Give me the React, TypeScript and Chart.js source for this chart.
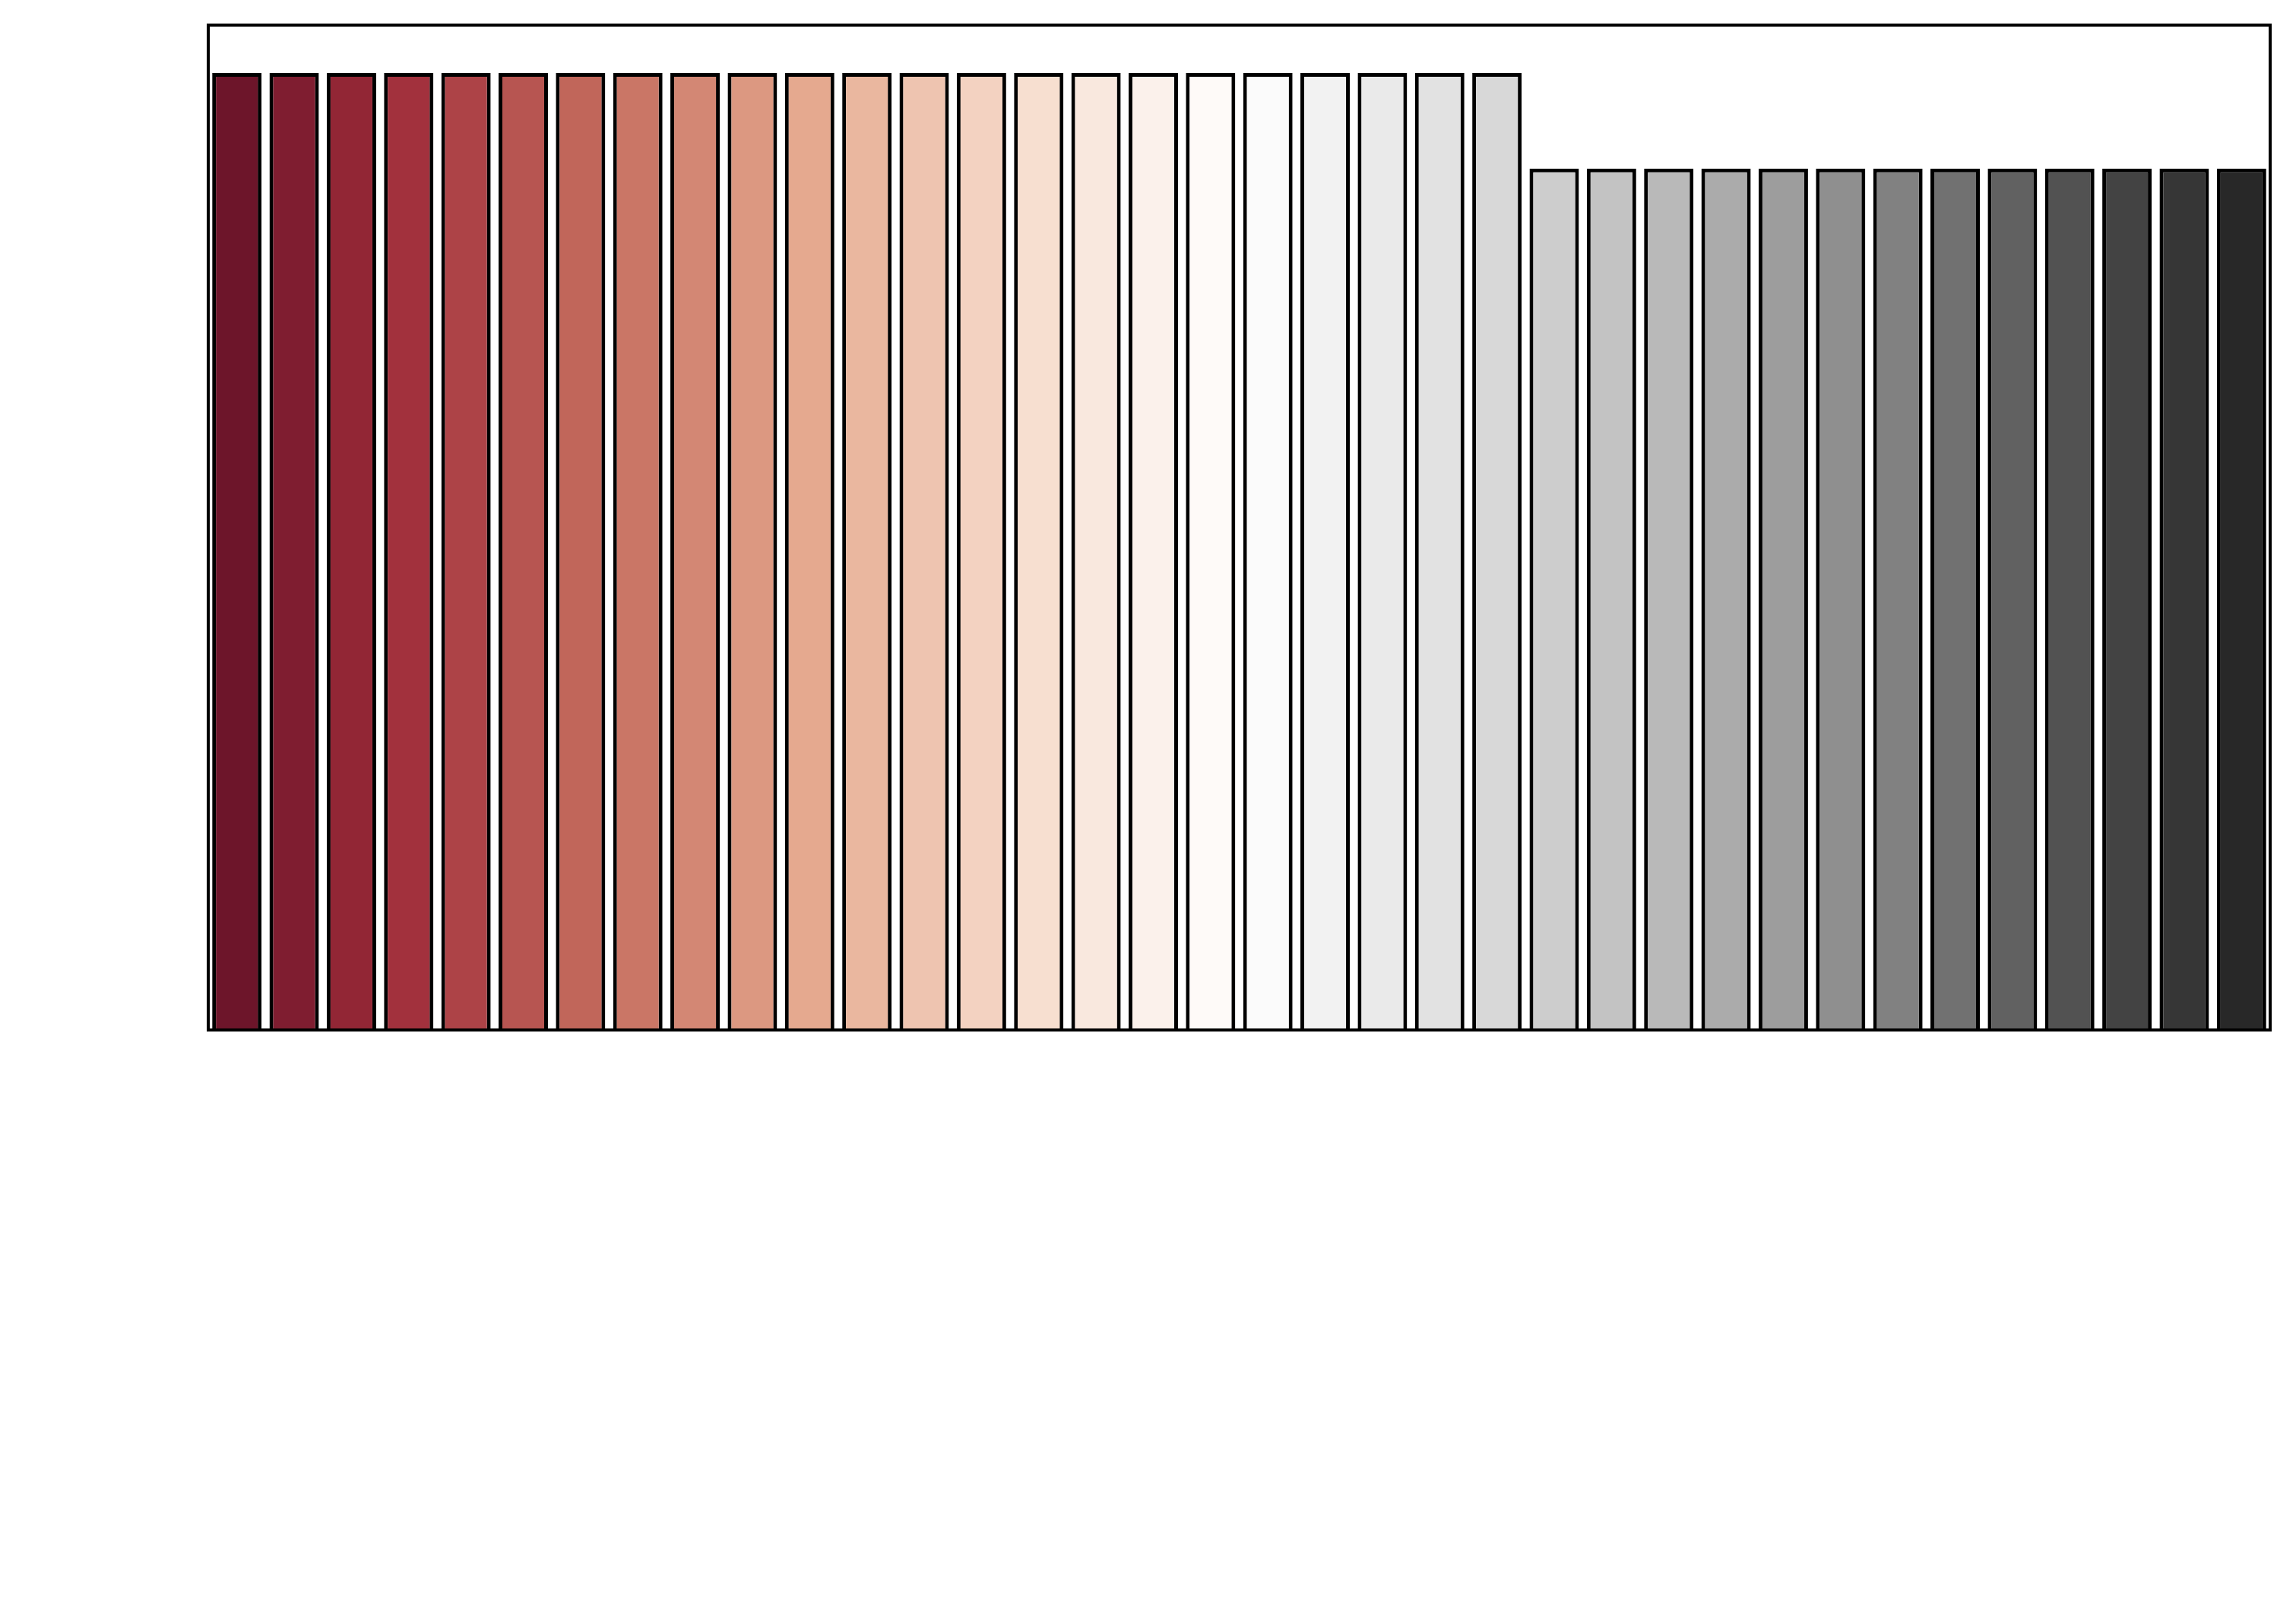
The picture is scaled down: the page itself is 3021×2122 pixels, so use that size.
import React, { useEffect, useRef } from "react";
import { Chart, registerables } from "chart.js";

Chart.register(...registerables);

const categories: string[] = Array.from({ length: 36 }, (_, i) => `C${i + 1}`);

const values: number[] = [
  1, 1, 1, 1, 1, 1, 1, 1, 1, 1, 1, 1,
  1, 1, 1, 1, 1, 1, 1, 1, 1, 1, 1,
  0.9, 0.9, 0.9, 0.9, 0.9, 0.9, 0.9, 0.9, 0.9, 0.9, 0.9, 0.9, 0.9,
];

const barColors: string[] = [
  "#6d152a", "#7f1d30", "#922635", "#a2313d", "#ad4347", "#b75551",
  "#c1665a", "#ca7666", "#d38774", "#dc9881", "#e5a98f", "#eab79f",
  "#eec4b0", "#f3d2c1", "#f7dfd0", "#f9e8de", "#fbf1eb", "#fefaf8",
  "#fbfbfb", "#f2f2f2", "#eaeaea", "#e2e2e2", "#d8d8d8", "#cdcdcd",
  "#c3c3c3", "#b9b9b9", "#ababab", "#9d9d9d", "#8f8f8f", "#818181",
  "#717171", "#616161", "#525252", "#434343", "#363636", "#282828",
];

const W = 3021;
const H = 2122;

const framePlugin = {
  id: "frame",
  afterDatasetsDraw(chart: any) {
    const { ctx, chartArea } = chart;
    ctx.save();
    ctx.strokeStyle = "#000000";
    ctx.lineWidth = 4;
    ctx.strokeRect(
      chartArea.left,
      chartArea.top,
      chartArea.right - chartArea.left,
      chartArea.bottom - chartArea.top
    );
    ctx.restore();
  },
};

export default function App() {
  const ref = useRef<HTMLCanvasElement | null>(null);

  useEffect(() => {
    if (!ref.current) return;
    const chart = new Chart(ref.current, {
      type: "bar",
      data: {
        labels: categories,
        datasets: [
          {
            data: values,
            backgroundColor: barColors,
            borderColor: "#000000",
            borderWidth: 5,
            borderSkipped: "start",
            barPercentage: 0.8625,
            categoryPercentage: 1,
          },
        ],
      },
      options: {
        responsive: false,
        animation: false,
        layout: {
          padding: { left: 274, right: 34, top: 33, bottom: 767 },
        },
        plugins: {
          legend: { display: false },
          tooltip: { enabled: false },
        },
        scales: {
          x: { type: "category", display: false },
          y: { display: false, min: 0, max: 1.05 },
        },
      },
      plugins: [framePlugin],
    });
    return () => chart.destroy();
  }, []);

  return (
    <div
      style={{
        position: "fixed",
        left: 0,
        top: 0,
        width: W,
        height: H,
        background: "#ffffff",
      }}
    >
      <canvas ref={ref} width={W} height={H} style={{ width: W, height: H, display: "block" }} />
    </div>
  );
}
